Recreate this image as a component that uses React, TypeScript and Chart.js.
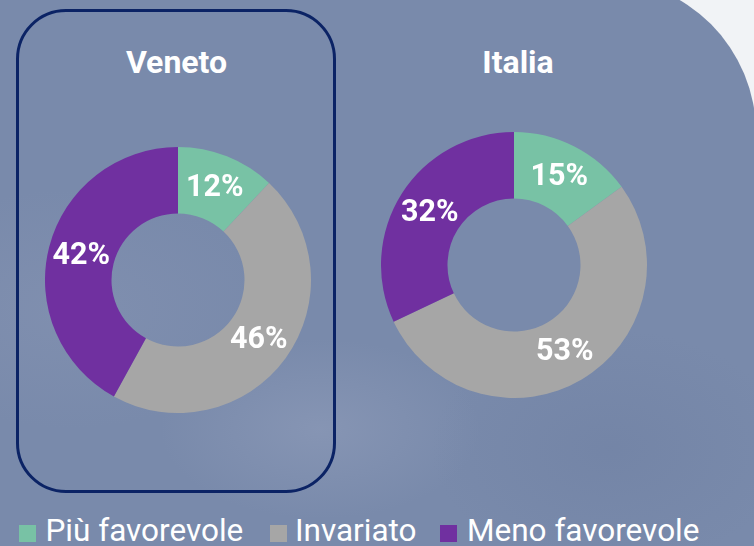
import React, { useEffect, useRef } from "react";
import { Chart, registerables } from "chart.js";

Chart.register(...registerables);

const categories = ["Più favorevole", "Invariato", "Meno favorevole"];
const regions = ["Veneto", "Italia"];
const venetoValues = [12, 46, 42];
const italiaValues = [15, 53, 32];
const sliceColors = ["#78c2a5", "#a6a6a6", "#7030a0"];

const labelPlugin = {
  id: "sliceLabels",
  afterDatasetsDraw(chart: any) {
    const ctx = chart.ctx;
    const meta = chart.getDatasetMeta(0);
    const data = chart.data.datasets[0].data;
    ctx.save();
    ctx.font = "bold 30.5px Roboto";
    ctx.fillStyle = "#ffffff";
    ctx.textAlign = "center";
    ctx.textBaseline = "middle";
    meta.data.forEach((arc: any, i: number) => {
      const p = arc.getCenterPoint();
      ctx.fillText(data[i] + "%", p.x, p.y + 1.5);
    });
    ctx.restore();
  },
};

function Donut({ values, left, top, size }: { values: number[]; left: number; top: number; size: number }) {
  const ref = useRef<HTMLCanvasElement | null>(null);
  useEffect(() => {
    if (!ref.current) return;
    const chart = new Chart(ref.current, {
      type: "doughnut",
      data: {
        labels: categories,
        datasets: [
          {
            data: values,
            backgroundColor: sliceColors,
            borderWidth: 0,
          },
        ],
      },
      options: {
        responsive: false,
        animation: false,
        cutout: "50%",
        layout: { padding: 0 },
        plugins: {
          legend: { display: false },
          tooltip: { enabled: false },
        },
      },
      plugins: [labelPlugin],
    });
    return () => chart.destroy();
  }, [values]);
  return (
    <canvas
      ref={ref}
      width={size}
      height={size}
      style={{ position: "absolute", left, top, width: size, height: size }}
    />
  );
}

export default function App() {
  const legendPos = [
    { sq: 19, tx: 45.5 },
    { sq: 269.5, tx: 295 },
    { sq: 440, tx: 467 },
  ];
  const titleStyle: React.CSSProperties = {
    position: "absolute",
    top: 46,
    transform: "translateX(-50%)",
    color: "#fff",
    fontWeight: 700,
    fontSize: 32,
    lineHeight: "32px",
    whiteSpace: "nowrap",
  };
  return (
    <div
      style={{
        position: "fixed",
        left: 0,
        top: 0,
        width: 754,
        height: 546,
        overflow: "hidden",
        background: "#f1f3f6",
        fontFamily: "Roboto, sans-serif",
      }}
    >
      <div
        style={{
          position: "absolute",
          left: -10,
          top: -21,
          width: 766,
          height: 580,
          borderTopRightRadius: 154,
          background:
            "radial-gradient(ellipse 160px 90px at 330px 450px, rgba(150,162,190,0.45), rgba(150,162,190,0) 100%)," +
            "radial-gradient(ellipse 200px 120px at 80px 330px, rgba(140,152,182,0.35), rgba(140,152,182,0) 100%)," +
            "radial-gradient(ellipse 180px 120px at 620px 470px, rgba(108,125,160,0.4), rgba(108,125,160,0) 100%)," +
            "#798aab",
        }}
      />
      <div
        style={{
          position: "absolute",
          left: 16,
          top: 9,
          width: 320,
          height: 484,
          boxSizing: "border-box",
          border: "3.5px solid #0b2365",
          borderRadius: 50,
        }}
      />
      <div style={{ ...titleStyle, left: 176.5 }}>{regions[0]}</div>
      <div style={{ ...titleStyle, left: 518 }}>{regions[1]}</div>
      <Donut values={venetoValues} left={44.5} top={146.5} size={266} />
      <Donut values={italiaValues} left={380.5} top={131.5} size={266} />
      {categories.map((c, i) => (
        <React.Fragment key={c}>
          <div
            style={{
              position: "absolute",
              left: legendPos[i].sq,
              top: 524.5,
              width: 17,
              height: 17,
              background: sliceColors[i],
            }}
          />
          <div
            style={{
              position: "absolute",
              left: legendPos[i].tx,
              top: 514.5,
              color: "#fff",
              fontSize: 31.5,
              lineHeight: "31.5px",
              whiteSpace: "nowrap",
            }}
          >
            {c}
          </div>
        </React.Fragment>
      ))}
    </div>
  );
}
